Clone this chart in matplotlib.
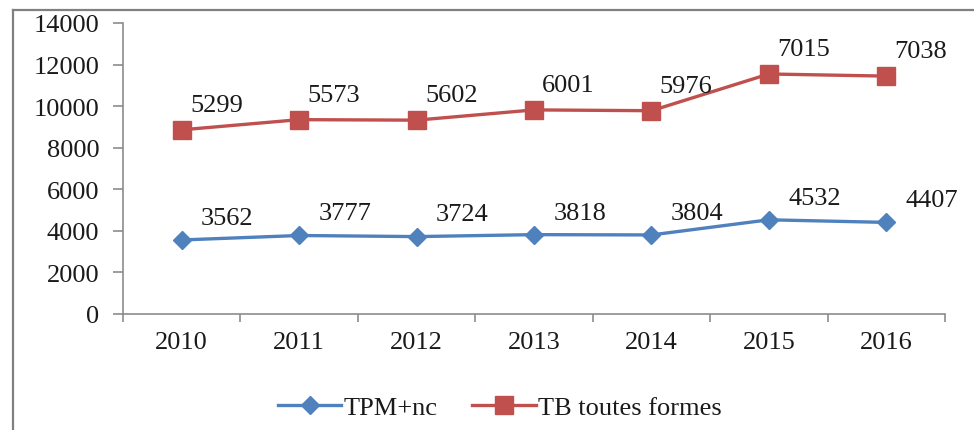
import numpy as np
import matplotlib.pyplot as plt
from matplotlib.lines import Line2D

plt.rcParams['font.family'] = ['Liberation Serif', 'DejaVu Serif']
plt.rcParams['font.size'] = 19

years = ['2010', '2011', '2012', '2013', '2014', '2015', '2016']
tpm_nc = [3562, 3777, 3724, 3818, 3804, 4532, 4407]
tb_toutes = [5299, 5573, 5602, 6001, 5976, 7015, 7038]
yticks = [0, 2000, 4000, 6000, 8000, 10000, 12000, 14000]

blue = '#4F81BD'
red = '#C0504D'
axis_grey = '#8C8C8C'
text_col = '#1a1a1a'

x = np.arange(len(years))
# stacked lines: the second series sits on top of the first
tb_stacked = np.array(tpm_nc) + np.array(tb_toutes)

fig = plt.figure(figsize=(9.74, 4.31), dpi=100)
ax = fig.add_axes([123/974, 1 - 315/431, (945 - 123)/974, (315 - 24)/431])

ax.plot(x, tpm_nc, color=blue, lw=2.4, marker='D', ms=9, mec=blue, mfc=blue,
        label='TPM+nc', zorder=3)
ax.plot(x, tb_stacked, color=red, lw=2.4, marker='s', ms=13, mec=red, mfc=red,
        label='TB toutes formes', zorder=3)

for xi, yi, v in zip(x, tpm_nc, tpm_nc):
    ax.annotate(str(v), (xi, yi), xytext=(14, 8), textcoords='offset points',
                ha='left', va='bottom', color=text_col)
for xi, yi, v in zip(x, tb_stacked, tb_toutes):
    ax.annotate(str(v), (xi, yi), xytext=(6, 10), textcoords='offset points',
                ha='left', va='bottom', color=text_col)

ax.set_xlim(-0.5, len(years) - 0.5)
ax.set_ylim(0, 14000)
ax.set_yticks(yticks)
ax.set_xticks(x)
ax.set_xticklabels(years)
ax.set_xticks(np.arange(len(years) + 1) - 0.5, minor=True)
ax.tick_params(axis='x', which='major', length=0, pad=12, labelcolor=text_col)
ax.tick_params(axis='x', which='minor', length=6, color=axis_grey, width=1.2,
               direction='out')
ax.tick_params(axis='y', length=7, color=axis_grey, width=1.2, pad=10,
               labelcolor=text_col)

for side in ['top', 'right']:
    ax.spines[side].set_visible(False)
for side in ['left', 'bottom']:
    ax.spines[side].set_color(axis_grey)
    ax.spines[side].set_linewidth(1.2)

fig.legend(loc='center', bbox_to_anchor=(500/974, 1 - 408/431), ncol=2,
           frameon=False, handlelength=2.4, columnspacing=1.3, handletextpad=0.1,
           labelcolor=text_col)

# frame lines along the left and top of the figure
fig.add_artist(Line2D([13/974, 13/974], [0, 1 - 11/431], transform=fig.transFigure,
                      color='#808080', lw=1.6))
fig.add_artist(Line2D([13/974, 1], [1 - 11/431, 1 - 11/431], transform=fig.transFigure,
                      color='#808080', lw=1.6))

fig.savefig('out.png', dpi=100)
